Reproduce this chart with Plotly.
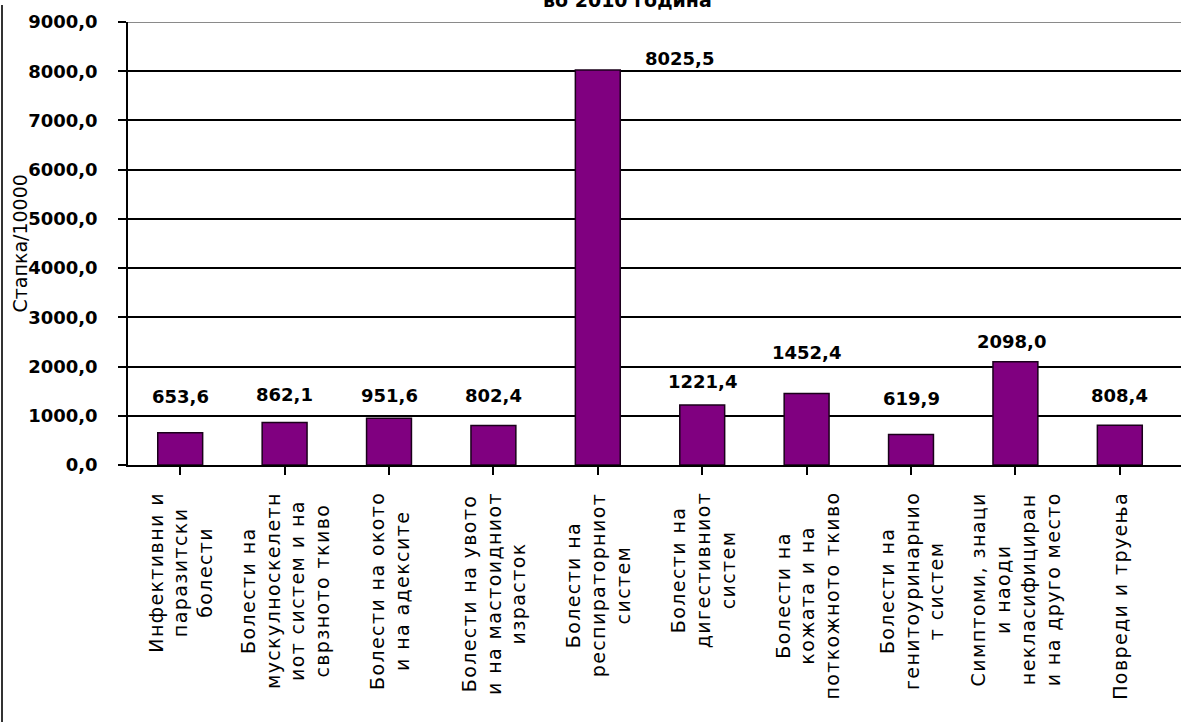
import plotly.graph_objects as go

# ---------------- data ----------------
categories = [
    "Инфективни и<br>паразитски<br>болести",
    "Болести на<br>мускулноскелетн<br>иот систем и на<br>сврзното ткиво",
    "Болести на окото<br>и на адексите",
    "Болести на увото<br>и на мастоидниот<br>израсток",
    "Болести на<br>респираторниот<br>систем",
    "Болести на<br>дигестивниот<br>систем",
    "Болести на<br>кожата и на<br>поткожното ткиво",
    "Болести на<br>генитоуринарнио<br>т систем",
    "Симптоми, знаци<br>и наоди<br>некласифициран<br>и на друго место",
    "Повреди и труења",
]
values = [653.6, 862.1, 951.6, 802.4, 8025.5, 1221.4, 1452.4, 619.9, 2098.0, 808.4]
y_ticks = [0, 1000, 2000, 3000, 4000, 5000, 6000, 7000, 8000, 9000]
title_text = "во 2010 година"
y_title = "Стапка/10000"

# ---------------- style ----------------
W, H = 1181, 722
ML, MR, MT, MB = 128, 0, 22, 257
PW = W - ML - MR
PH = H - MT - MB
label_yshift = [36, 28, 23, 30, 11, 23, 41, 36, 20, 30]
label_xshift = [0, 0, 0, 0, 82, 0, 0, 0, -4, 0]

BAR = "#800080"
idx = list(range(len(categories)))

fig = go.Figure()
fig.add_trace(go.Bar(
    x=idx, y=values, width=0.43,
    marker=dict(color=BAR, line=dict(color="#1a001a", width=1.5)),
    hoverinfo="skip",
))

def fmt(v):
    return f"{v:.1f}".replace(".", ",")

def spaced(label, px=1.4):
    return "<br>".join(
        f"<span style='letter-spacing:{px}px'>{line}</span>" for line in label.split("<br>")
    )

annotations = []
for i, v in enumerate(values):
    annotations.append(dict(
        x=i, y=v, xref="x", yref="y", text=fmt(v), showarrow=False,
        yanchor="middle", xanchor="center",
        yshift=label_yshift[i], xshift=label_xshift[i],
        font=dict(family="DejaVu Sans", size=18, color="black", weight="bold"),
    ))
for i, c in enumerate(categories):
    annotations.append(dict(
        x=i, y=0, xref="x", yref="paper", text=spaced(c), showarrow=False,
        textangle=-90, xanchor="center", yanchor="top", yshift=-25,
        align="center",
        font=dict(family="DejaVu Sans", size=19, color="black"),
    ))
# y-axis title
annotations.append(dict(
    x=(19 - ML) / PW, y=0.5, xref="paper", yref="paper", text=y_title,
    showarrow=False, textangle=-90, xanchor="center", yanchor="middle",
    font=dict(family="DejaVu Sans", size=19, color="black"),
))
# chart title (cut off at top of image, as in the reference)
annotations.append(dict(
    x=(627 - ML) / PW, y=1 + (MT - 13) / PH, xref="paper", yref="paper",
    text=title_text, showarrow=False, xanchor="center", yanchor="bottom",
    font=dict(family="DejaVu Sans", size=19, color="black", weight="bold"),
))

shapes = [
    # top border of plot area (grey)
    dict(type="line", xref="paper", yref="y", x0=0, x1=1, y0=9000, y1=9000,
         line=dict(color="#8a8a8a", width=2), layer="above"),
    # outer chart border on the left
    dict(type="line", xref="paper", yref="paper",
         x0=(2 - ML) / PW, x1=(2 - ML) / PW, y0=-MB / PH, y1=1 + (MT - 5) / PH,
         line=dict(color="#333333", width=2)),
]

fig.update_layout(
    width=W, height=H,
    margin=dict(l=ML, r=MR, t=MT, b=MB, pad=0),
    paper_bgcolor="white", plot_bgcolor="white",
    separators=",.",
    showlegend=False,
    annotations=annotations,
    shapes=shapes,
)
fig.update_xaxes(
    range=[-0.5, 9.586], showticklabels=False, showgrid=False,
    tickmode="array", tickvals=idx, ticks="outside", tickson="boundaries",
    ticklen=8, tickwidth=1.5, tickcolor="black",
    showline=True, linecolor="black", linewidth=1.5, zeroline=False,
)
fig.update_yaxes(
    range=[0, 9000], tickmode="array", tickvals=y_ticks, tickformat=".1f",
    showgrid=True, gridcolor="black", gridwidth=1.5,
    ticks="outside", ticklen=8, tickwidth=1.5, tickcolor="black",
    ticklabelstandoff=17,
    showline=True, linecolor="black", linewidth=1.5, zeroline=False,
    tickfont=dict(family="DejaVu Sans", size=18, color="black", weight="bold"),
)

fig.write_html(
    "out.html",
    config={"displayModeBar": False},
    post_script="document.body.style.margin='0';",
)
